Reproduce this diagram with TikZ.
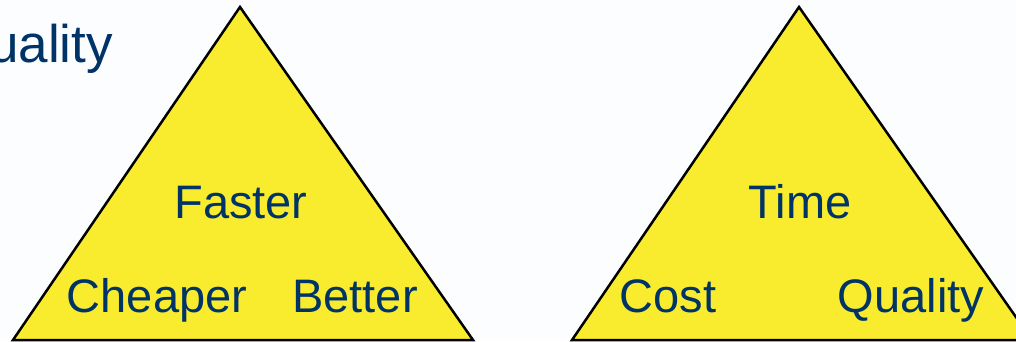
\documentclass[tikz,border=0pt]{standalone}
\usepackage{fontspec}
\setmainfont{Liberation Sans}
\definecolor{triyellow}{RGB}{249,236,46}
\definecolor{txtblue}{RGB}{0,51,102}
\definecolor{bgwhite}{RGB}{252,253,255}
\begin{document}
\begin{tikzpicture}[x=1pt,y=-1pt,
  tri/.style={fill=triyellow,draw=black,line width=2.5pt,line join=miter},
  lbl/.style={text=txtblue,font=\fontsize{47}{52}\selectfont,anchor=base,inner sep=0pt}]
\useasboundingbox (0,0) rectangle (1016,341);
\fill[bgwhite] (0,0) rectangle (1016,341);
\begin{scope}
\clip (0,0) rectangle (1016,341);
\coordinate (lt) at (240,7);
\coordinate (ll) at (13,340);
\coordinate (lr) at (473,340);
\coordinate (rt) at (799,7);
\coordinate (rl) at (572,340);
\coordinate (rr) at (1032,340);
\draw[tri] (lt) -- (ll) -- (lr) -- cycle;
\draw[tri] (rt) -- (rl) -- (rr) -- cycle;
\node[lbl,anchor=base east,font=\fontsize{53}{58}\selectfont] (q0) at (113,62) {Quality};
\end{scope}
\node[lbl] (faster) at (241,218) {Faster};
\node[lbl] (cheaper) at (157,312) {Cheaper};
\node[lbl] (better) at (355,312) {Better};
\node[lbl] (time) at (800,218) {Time};
\node[lbl] (cost) at (668,312) {Cost};
\node[lbl] (quality) at (911,312) {Quality};
\end{tikzpicture}
\end{document}
